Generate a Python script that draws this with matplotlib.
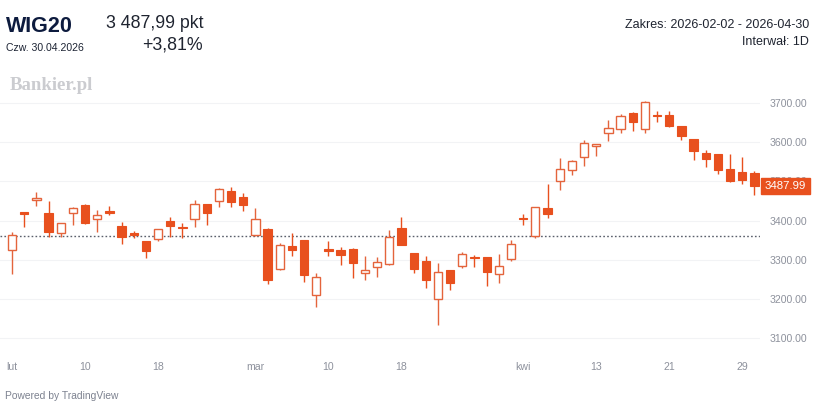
import numpy as np
import pandas as pd
import matplotlib
matplotlib.use("Agg")
import matplotlib.pyplot as plt

plt.rcParams['font.family'] = ['Liberation Sans', 'DejaVu Sans']

# trading days of WIG20, 2026-02-02 .. 2026-04-30 (Good Friday and Easter Monday closed)
days = [d for d in pd.bdate_range("2026-02-02", "2026-04-30")
        if d not in (pd.Timestamp("2026-04-03"), pd.Timestamp("2026-04-06"))]

opens = [3325, 3421, 3452, 3418, 3368, 3419, 3440, 3404, 3424, 3386,
         3367, 3347, 3352, 3400, 3384, 3404, 3442, 3451, 3476, 3459,
         3363, 3378, 3276, 3336, 3350, 3210, 3328, 3325, 3328, 3266,
         3281, 3289, 3380, 3317, 3298, 3200, 3274, 3285, 3308, 3306,
         3263, 3301, 3407, 3361, 3432, 3501, 3529, 3563, 3591, 3623,
         3633, 3674, 3634, 3668, 3669, 3640, 3607, 3573, 3569, 3532,
         3525, 3521]
highs = [3370, 3423, 3474, 3451, 3395, 3434, 3441, 3427, 3437, 3397,
         3373, 3347, 3378, 3408, 3393, 3453, 3442, 3482, 3486, 3470,
         3431, 3380, 3342, 3369, 3350, 3266, 3348, 3333, 3329, 3310,
         3308, 3376, 3410, 3317, 3310, 3293, 3274, 3321, 3312, 3306,
         3314, 3350, 3417, 3434, 3493, 3559, 3555, 3606, 3595, 3657,
         3672, 3676, 3705, 3680, 3678, 3641, 3607, 3580, 3569, 3570,
         3563, 3527]
lows = [3264, 3384, 3437, 3359, 3359, 3389, 3392, 3372, 3414, 3340,
        3355, 3305, 3349, 3359, 3355, 3384, 3389, 3435, 3434, 3425,
        3361, 3238, 3274, 3310, 3244, 3180, 3310, 3287, 3253, 3248,
        3257, 3287, 3338, 3267, 3229, 3134, 3223, 3278, 3282, 3234,
        3242, 3298, 3389, 3355, 3406, 3478, 3515, 3539, 3565, 3604,
        3624, 3627, 3624, 3652, 3638, 3606, 3555, 3536, 3518, 3499,
        3493, 3465]
closes = [3363, 3416, 3458, 3370, 3393, 3431, 3393, 3413, 3418, 3359,
          3362, 3322, 3378, 3386, 3381, 3442, 3420, 3481, 3447, 3439,
          3403, 3248, 3338, 3325, 3261, 3255, 3322, 3312, 3293, 3274,
          3294, 3359, 3338, 3276, 3248, 3268, 3242, 3314, 3304, 3270,
          3284, 3340, 3403, 3434, 3416, 3532, 3552, 3597, 3595, 3637,
          3667, 3651, 3702, 3666, 3641, 3616, 3578, 3556, 3529, 3501,
          3504, 3487.99]

base_price = 3360.0
y_ticks = [3100, 3200, 3300, 3400, 3500, 3600, 3700]
x_tick_days = ["2026-02-02", "2026-02-10", "2026-02-18", "2026-03-02", "2026-03-10",
               "2026-03-18", "2026-04-01", "2026-04-13", "2026-04-21", "2026-04-29"]
x_tick_labels = ["lut", "10", "18", "mar", "10", "18", "kwi", "13", "21", "29"]

red = "#e8501e"
edge_up = "#e4643c"
gray_txt = "#8d919c"

W, H = 815, 403
fig = plt.figure(figsize=(W / 100, H / 100), dpi=100)
ax = fig.add_axes([0, 1 - 350 / H, 760 / W, 275 / H])

x = np.arange(len(days))
o = np.array(opens, dtype=float)
c = np.array(closes, dtype=float)
up = c >= o

for yv in y_ticks:
    ax.axhline(yv, color="#f2f3f5", lw=0.8, zorder=0)
ax.axhline(base_price, color="#5a5f6b", lw=1.0, ls=(0, (1.2, 1.6)), zorder=1)

ax.vlines(x[up], np.array(lows)[up], np.array(highs)[up], color=edge_up, lw=1.0, zorder=2)
ax.vlines(x[~up], np.array(lows)[~up], np.array(highs)[~up], color=red, lw=1.0, zorder=2)
body_h = np.maximum(np.abs(c - o), 1.5)
body_b = np.minimum(o, c)
ax.bar(x[up], body_h[up], bottom=body_b[up], width=0.68, facecolor="white",
       edgecolor=edge_up, linewidth=1.0, zorder=3)
ax.bar(x[~up], body_h[~up], bottom=body_b[~up], width=0.68, facecolor=red,
       edgecolor=red, linewidth=0.8, zorder=3)

ax.set_xlim(-0.99, 61.46)
ax.set_ylim(3070, 3771)
for s in ax.spines.values():
    s.set_visible(False)

ax.yaxis.tick_right()
ax.set_yticks(y_ticks)
ax.set_yticklabels([f"{v:.2f}" for v in y_ticks])
pos = [days.index(pd.Timestamp(d)) for d in x_tick_days]
ax.set_xticks(pos)
ax.set_xticklabels(x_tick_labels)
ax.tick_params(axis="y", length=0, pad=7, labelsize=7.6, labelcolor=gray_txt)
ax.tick_params(axis="x", length=0, pad=9, labelsize=7.6, labelcolor=gray_txt)

# last price tag (covers the 3500.00 label, as in the source chart)
ax.annotate(f"{closes[-1]:.2f}", xy=(1, closes[-1]), xycoords=("axes fraction", "data"),
            xytext=(3.5, 0), textcoords="offset points", ha="left", va="center",
            fontsize=8.2, color="white", zorder=5, annotation_clip=False,
            bbox=dict(boxstyle="square,pad=0.3", fc=red, ec=red))

# header
fig.text(6 / W, 1 - 27 / H, "WIG20", fontsize=15.5, fontweight="bold", color="#0d1b3e", va="center")
fig.text(6 / W, 1 - 48 / H, "Czw. 30.04.2026", fontsize=7.6, color="#1c2333", va="center")
fig.text(203 / W, 1 - 24 / H, "3 487,99 pkt", fontsize=12.8, color="#1f2430", ha="right", va="center")
fig.text(203 / W, 1 - 45 / H, "+3,81%", fontsize=12.8, color="#1f2430", ha="right", va="center")
fig.text(809 / W, 1 - 25 / H, "Zakres: 2026-02-02 - 2026-04-30", fontsize=9, color="#1f2430",
         ha="right", va="center")
fig.text(809 / W, 1 - 42 / H, "Interwał: 1D", fontsize=9, color="#1f2430", ha="right", va="center")
fig.text(10 / W, 1 - 86 / H, "Bankier.pl", fontsize=13.5, fontweight="bold", color="#cbccd0",
         family=["Liberation Serif", "DejaVu Serif"], va="center")
fig.text(5 / W, 1 - 396 / H, "Powered by TradingView", fontsize=7.4, color="#7d8290", va="center")

fig.savefig("out.png", dpi=100, facecolor="white")
